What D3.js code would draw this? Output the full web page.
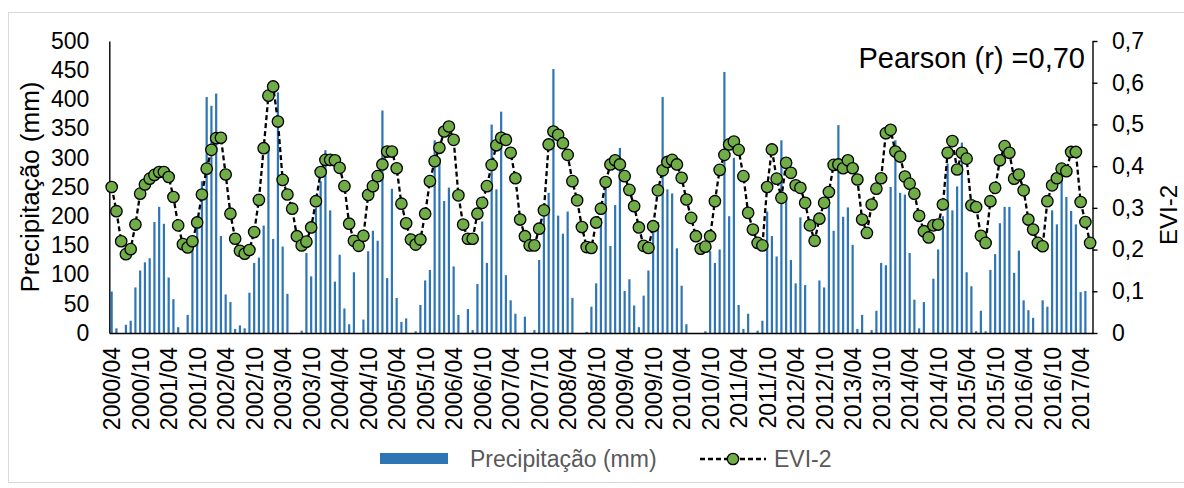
<!DOCTYPE html>
<html>
<head>
<meta charset="utf-8">
<script src="https://cdn.jsdelivr.net/npm/d3@7"></script>
<style>
  body { margin: 0; background: #fff; }
  svg { display: block; font-family: "Liberation Sans", Arial, sans-serif; }
</style>
</head>
<body>
<div class="svg-content"></div>
<script>
// monthly precipitation (mm), 2000/04 .. 2017/06
const precip = [
  71, 8, 0, 14, 21, 78, 107, 121, 128, 190, 216, 187,
  95, 58, 10, 0, 31, 150, 200, 260, 404, 389, 410, 166,
  66, 53, 7, 13, 8, 69, 120, 129, 184, 320, 161, 412,
  148, 67, 0, 0, 4, 137, 97, 215, 260, 313, 210, 88,
  134, 42, 15, 104, 0, 23, 140, 175, 158, 381, 94, 247,
  60, 19, 25, 0, 3, 48, 90, 108, 330, 300, 226, 249,
  114, 31, 0, 41, 5, 84, 191, 120, 357, 246, 379, 99,
  56, 33, 0, 28, 0, 5, 125, 200, 240, 452, 201, 170,
  208, 60, 0, 0, 2, 45, 85, 197, 249, 149, 219, 317,
  72, 92, 47, 10, 64, 107, 174, 190, 404, 246, 239, 145,
  81, 15, 0, 0, 0, 3, 140, 120, 143, 447, 200, 300,
  48, 7, 33, 0, 4, 21, 208, 166, 131, 330, 230, 125,
  85, 198, 82, 0, 0, 90, 78, 230, 175, 356, 199, 215,
  151, 7, 31, 0, 5, 38, 120, 116, 250, 330, 240, 237,
  137, 57, 8, 53, 0, 93, 143, 200, 290, 210, 251, 326,
  104, 80, 3, 38, 3, 108, 135, 188, 216, 216, 103, 141,
  56, 39, 26, 0, 56, 45, 210, 186, 290, 233, 209, 186,
  70, 72, 0
];

// monthly EVI-2
const evi = [
  .350, .292, .220, .189, .201, .260, .334, .356, .370, .379, .386, .386,
  .374, .326, .258, .213, .205, .220, .265, .332, .394, .439, .467, .468,
  .380, .286, .226, .197, .190, .199, .242, .319, .443, .569, .591, .507,
  .367, .332, .298, .232, .210, .219, .253, .316, .386, .415, .415, .414,
  .396, .352, .262, .221, .209, .233, .331, .352, .376, .404, .435, .435,
  .395, .310, .263, .224, .212, .224, .286, .364, .412, .444, .483, .495,
  .463, .330, .260, .226, .226, .286, .312, .352, .403, .450, .468, .463,
  .432, .371, .272, .232, .210, .210, .250, .294, .452, .483, .475, .455,
  .427, .364, .318, .254, .206, .204, .265, .298, .362, .404, .414, .404,
  .376, .343, .304, .253, .209, .204, .256, .342, .390, .410, .415, .404,
  .372, .320, .276, .232, .202, .207, .232, .316, .391, .427, .452, .459,
  .439, .376, .288, .248, .216, .210, .350, .440, .370, .324, .408, .384,
  .354, .348, .312, .258, .221, .274, .312, .338, .403, .404, .395, .414,
  .395, .368, .272, .240, .308, .346, .371, .479, .487, .435, .423, .375,
  .358, .334, .281, .244, .229, .258, .260, .308, .432, .460, .392, .432,
  .418, .306, .302, .233, .216, .316, .348, .414, .448, .432, .370, .380,
  .342, .272, .248, .216, .208, .316, .354, .371, .394, .388, .434, .434,
  .314, .266, .216
];

const tickLabels = [
  "2000/04", "2000/10", "2001/04", "2001/10", "2002/04", "2002/10", "2003/04",
  "2003/10", "2004/04", "2004/10", "2005/04", "2005/10", "2006/04", "2006/10",
  "2007/04", "2007/10", "2008/04", "2008/10", "2009/04", "2009/10", "2010/04",
  "2010/10", "2011/04", "2011/10", "2012/04", "2012/10", "2013/04", "2013/10",
  "2014/04", "2014/10", "2015/04", "2015/10", "2016/04", "2016/10", "2017/04"
];

const startMonth = new Date(2000, 3, 1);
const months = precip.map((d, i) => d3.timeFormat("%Y/%m")(d3.timeMonth.offset(startMonth, i)));

const svgWidth = 1184;
const svgHeight = 488;
const plotLeft = 109.3, plotRight = 1092.5, plotTop = 41, plotBottom = 333;

const blue = "#2E75B6";
const green = "#70AD47";
const grey = "#595959";

const svg = d3.select(".svg-content")
              .append("svg")
              .attr("width", svgWidth)
              .attr("height", svgHeight);

// chart area border
svg.append("rect")
   .attr("x", 8.5).attr("y", 12.5)
   .attr("width", 1200).attr("height", 470)
   .attr("fill", "none")
   .attr("stroke", "#d9d9d9");

const xScale = d3.scaleBand()
                 .domain(months)
                 .range([plotLeft, plotRight]);

const yScale = d3.scaleLinear().domain([0, 500]).range([plotBottom, plotTop]);
const y2Scale = d3.scaleLinear().domain([0, 0.7]).range([plotBottom, plotTop]);

const ptBr = d3.formatLocale({decimal: ",", thousands: ".", grouping: [3], currency: ["", ""]});
const fmt1 = ptBr.format(".1f");

// bars
const barW = 2.2;
svg.append("g")
   .selectAll("rect")
   .data(precip)
   .enter()
   .append("rect")
   .attr("x", (d, i) => xScale(months[i]) + xScale.bandwidth() / 2 - barW / 2)
   .attr("y", d => yScale(d))
   .attr("width", barW)
   .attr("height", d => plotBottom - yScale(d))
   .attr("fill", blue);

// axes
const yAxis = svg.append("g")
   .attr("transform", "translate(" + plotLeft + ",0)")
   .call(d3.axisLeft(yScale).ticks(10).tickSize(0).tickPadding(20));

const y2Axis = svg.append("g")
   .attr("transform", "translate(" + plotRight + ",0)")
   .call(d3.axisRight(y2Scale).ticks(7).tickSizeInner(5).tickSizeOuter(0).tickPadding(14.5)
           .tickFormat(d => d === 0 ? "0" : fmt1(d)));

const xAxis = svg.append("g")
   .attr("transform", "translate(0," + plotBottom + ")")
   .call(d3.axisBottom(xScale).tickValues(tickLabels).tickSize(0).tickSizeOuter(0));

xAxis.selectAll("text")
     .attr("transform", "rotate(-90)")
     .attr("x", -14)
     .attr("y", 8.5)
     .attr("dy", null)
     .attr("text-anchor", "end");

[yAxis, y2Axis, xAxis].forEach(g => {
  g.attr("font-family", null).attr("font-size", null);
  g.selectAll("text").style("font-size", "23px").attr("fill", "#000");
  g.select(".domain").attr("stroke", "#000").attr("stroke-width", 1.4);
  g.selectAll(".tick line").attr("stroke", "#000").attr("stroke-width", 1.4);
});

// EVI-2 line and points
const line = d3.line()
               .x((d, i) => xScale(months[i]) + xScale.bandwidth() / 2)
               .y(d => y2Scale(d));

svg.append("path")
   .datum(evi)
   .attr("d", line)
   .attr("fill", "none")
   .attr("stroke", "#000")
   .attr("stroke-width", 2.3)
   .attr("stroke-dasharray", "5,3");

svg.append("g")
   .selectAll("circle")
   .data(evi)
   .enter()
   .append("circle")
   .attr("cx", (d, i) => xScale(months[i]) + xScale.bandwidth() / 2)
   .attr("cy", d => y2Scale(d))
   .attr("r", 5.7)
   .attr("fill", green)
   .attr("stroke", "#000")
   .attr("stroke-width", 1.3);

// axis titles
svg.append("text")
   .attr("transform", "translate(39,187) rotate(-90)")
   .attr("text-anchor", "middle")
   .style("font-size", "26px")
   .text("Precipitação (mm)");

svg.append("text")
   .attr("transform", "translate(1177,215) rotate(-90)")
   .attr("text-anchor", "middle")
   .style("font-size", "24px")
   .text("EVI-2");

svg.append("text")
   .attr("x", 1085)
   .attr("y", 68)
   .attr("text-anchor", "end")
   .style("font-size", "29px")
   .text("Pearson (r) =0,70");

// legend
const legend = svg.append("g");
legend.append("rect")
      .attr("x", 380).attr("y", 453)
      .attr("width", 68).attr("height", 11)
      .attr("fill", blue);
legend.append("text")
      .attr("x", 470).attr("y", 467)
      .attr("fill", grey)
      .style("font-size", "23px")
      .text("Precipitação (mm)");
legend.append("line")
      .attr("x1", 700).attr("x2", 766)
      .attr("y1", 459).attr("y2", 459)
      .attr("stroke", "#000")
      .attr("stroke-width", 2.3)
      .attr("stroke-dasharray", "5,3");
legend.append("circle")
      .attr("cx", 733).attr("cy", 459)
      .attr("r", 5.7)
      .attr("fill", green)
      .attr("stroke", "#000")
      .attr("stroke-width", 1.3);
legend.append("text")
      .attr("x", 774).attr("y", 467)
      .attr("fill", grey)
      .style("font-size", "23px")
      .text("EVI-2");
</script>
</body>
</html>
